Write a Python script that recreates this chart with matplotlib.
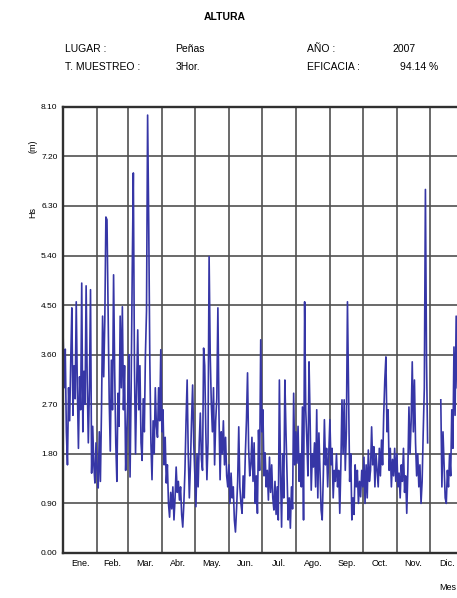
import numpy as np
import matplotlib
matplotlib.use("Agg")
import matplotlib.pyplot as plt

plt.rcParams['font.family'] = ['Liberation Sans', 'DejaVu Sans']

# Hs (m), one reading per day
ene = [4.0, 3.0, 3.7, 2.2, 1.6, 3.0, 2.4, 3.5, 4.45, 2.5, 3.4, 2.8, 4.56, 3.0, 1.9, 3.2,
       2.6, 4.9, 2.2, 3.3, 2.7, 4.85, 3.1, 2.0, 3.0, 4.78, 1.45, 2.3, 1.6, 1.27, 2.0]
feb = [1.5, 1.18, 2.2, 1.3, 2.6, 4.3, 3.2, 4.2, 6.1, 6.05, 4.5, 2.8, 1.85, 3.5, 2.6, 5.05,
       3.3, 2.0, 1.3, 2.9, 2.3, 4.3, 3.0, 4.47, 2.6, 3.4, 1.5, 2.2]
mar = [2.8, 3.6, 1.38, 3.0, 5.14, 6.9, 3.4, 1.8, 3.0, 4.05, 2.6, 3.4, 2.0, 1.68, 2.8, 2.2,
       3.6, 4.4, 7.95, 6.0, 3.5, 2.0, 1.33, 2.4, 1.8, 3.0, 2.3, 2.1, 3.0, 2.4, 3.69]
abr = [2.2, 2.6, 1.6, 2.1, 1.27, 1.6, 0.9, 0.65, 1.1, 0.8, 1.2, 0.6, 1.0, 1.56, 1.1, 1.3,
       0.96, 1.2, 0.7, 0.47, 0.9, 1.5, 2.4, 3.14, 1.8, 1.0, 1.6, 2.4, 3.05, 2.0]
may = [1.4, 0.84, 1.8, 1.2, 2.0, 2.54, 1.7, 1.5, 3.72, 3.4, 2.2, 1.33, 2.0, 5.38, 3.6, 2.72,
       2.2, 3.0, 1.6, 2.4, 2.8, 4.45, 2.5, 1.33, 2.2, 1.8, 2.4, 1.6, 2.1, 1.4, 1.2]
jun = [1.6, 0.9, 1.45, 1.0, 1.2, 0.6, 0.38, 0.8, 1.3, 2.29, 1.2, 0.9, 0.72, 1.4, 1.0, 1.8,
       2.4, 3.27, 1.9, 1.4, 1.6, 2.1, 1.3, 2.0, 0.9, 1.4, 0.72, 2.23, 1.5, 3.87]
jul = [2.2, 2.6, 1.4, 1.82, 1.2, 1.5, 0.96, 1.74, 1.1, 1.6, 1.0, 0.78, 1.3, 0.7, 1.2, 0.6,
       3.14, 1.5, 0.47, 1.8, 1.0, 3.14, 2.2, 1.4, 0.6, 1.0, 0.45, 1.2, 0.8, 2.9, 1.6]
ago = [2.2, 1.63, 2.3, 1.3, 1.8, 1.2, 2.65, 0.6, 4.56, 2.6, 2.05, 1.4, 3.47, 2.4, 1.14, 1.8,
       1.56, 2.0, 1.2, 2.6, 1.0, 2.18, 1.5, 0.78, 0.6, 1.4, 2.42, 1.6, 1.9, 1.2, 1.8]
sep = [2.42, 1.6, 1.9, 1.0, 1.5, 1.3, 1.8, 1.2, 1.5, 0.72, 1.6, 2.78, 1.8, 2.78, 1.5, 2.2,
       4.56, 2.9, 1.3, 1.8, 0.6, 1.0, 0.7, 1.6, 1.2, 1.5, 0.9, 1.3, 1.02, 1.5]
octu = [1.2, 1.74, 0.9, 1.6, 1.0, 1.87, 1.3, 1.5, 2.29, 1.6, 1.93, 1.2, 1.8, 1.5, 1.2, 1.9,
        1.4, 2.05, 1.6, 2.5, 3.14, 3.56, 2.2, 2.6, 1.5, 1.9, 1.2, 1.7, 1.4, 1.9, 1.3]
nov = [1.8, 1.2, 1.45, 1.0, 1.6, 1.3, 1.9, 1.1, 1.4, 0.72, 1.5, 2.65, 1.8, 2.4, 3.47, 2.2,
       3.14, 2.0, 1.4, 1.8, 1.2, 1.6, 0.9, 1.3, 2.2, 3.0, 6.6, 3.5, 2.0, np.nan]
dic = [np.nan] * 10 + [2.78, 1.2, 2.2, 1.6, 1.0, 0.9, 1.5, 1.2, 1.8, 1.4, 2.6, 1.9, 3.74,
                       2.5, 4.3, 3.0]

meses = ["Ene.", "Feb.", "Mar.", "Abr.", "May.", "Jun.", "Jul.", "Ago.", "Sep.", "Oct.", "Nov.", "Dic."]
dias_mes = [31, 28, 31, 30, 31, 30, 31, 31, 30, 31, 30, 31]

hs = np.concatenate([ene, feb, mar, abr, may, jun, jul, ago, sep, octu, nov, dic])
dia = np.arange(len(hs))

limites = np.concatenate([[0], np.cumsum(dias_mes)])
centros = (limites[:-1] + limites[1:]) / 2

fig = plt.figure(figsize=(4.57, 5.98), dpi=100)
ax = fig.add_axes([0.138, 0.0753, 0.877, 0.746])
ax.plot(dia, hs, color='#3636a6', lw=1.2)

ax.set_xlim(0, 365)
ax.set_ylim(0, 8.1)
yt = np.arange(0, 8.11, 0.9)
ax.set_yticks(yt)
ax.set_yticklabels(["%.2f" % v for v in yt], fontsize=6)
ax.set_xticks(centros)
ax.set_xticklabels(meses, fontsize=6.5)
ax.set_xticks(limites[1:-1], minor=True)
ax.tick_params(axis='both', which='both', length=0, pad=4)
ax.grid(True, which='minor', axis='x', color='#505050', lw=1.2)
ax.grid(True, which='major', axis='y', color='#505050', lw=1.2)
ax.set_axisbelow(True)
for s in ax.spines.values():
    s.set_linewidth(1.7)
    s.set_color('#303030')

fig.text(0.492, 0.972, "ALTURA", ha='center', va='center', fontsize=7.5, fontweight='bold')
fig.text(0.142, 0.918, "LUGAR :", fontsize=7.5, va='center')
fig.text(0.142, 0.888, "T. MUESTREO :", fontsize=7.5, va='center')
fig.text(0.383, 0.918, "Peñas", fontsize=7.5, va='center')
fig.text(0.385, 0.888, "3Hor.", fontsize=7.5, va='center')
fig.text(0.672, 0.918, "AÑO :", fontsize=7.5, va='center')
fig.text(0.672, 0.888, "EFICACIA :", fontsize=7.5, va='center')
fig.text(0.858, 0.918, "2007", fontsize=7.5, va='center')
fig.text(0.875, 0.888, "94.14 %", fontsize=7.5, va='center')

fig.text(0.072, 0.645, "Hs", rotation=90, fontsize=6.5, ha='center', va='center')
fig.text(0.072, 0.755, "(m)", rotation=90, fontsize=6.5, ha='center', va='center')
fig.text(0.962, 0.010, "Mes", fontsize=6.5, va='bottom')

fig.savefig("out.png", dpi=100)
